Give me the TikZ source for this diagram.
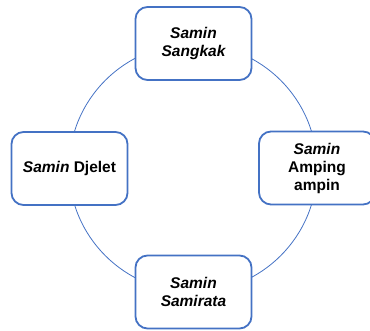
\documentclass[tikz,border=0pt]{standalone}
\usepackage{fontspec}
\setmainfont{Liberation Sans}
\usepackage{xcolor}
\definecolor{boxblue}{HTML}{4472C4}
\colorlet{ringblue}{boxblue}
\usepackage{tikz}
\usetikzlibrary{calc}

\begin{document}
\begin{tikzpicture}[x=1pt,y=-1pt,
    phase/.style={draw=boxblue, line width=1.8pt, fill=white, rounded corners=12pt,
      minimum width=116pt, minimum height=73pt, align=center,
      font=\fontsize{15.5}{18}\selectfont\bfseries}]
      \useasboundingbox (0,0) rectangle (370,331);
      \coordinate (mid) at (193,168);
      \draw[ringblue, line width=0.8pt] (mid) circle [radius=124];

      \node[phase] (sangkak) at (193.5,43.5) {\itshape Samin\\\itshape Sangkak};
      \node[phase] (djelet) at (69.5,168.5) {\itshape Samin\upshape\ Djelet};
      \node[phase] (amping) at (317,168) {\itshape Samin\\Amping\\ampin};
      \node[phase] (samirata) at (193.5,292) {\itshape Samin\\\itshape Samirata};
    \end{tikzpicture}
\end{document}
